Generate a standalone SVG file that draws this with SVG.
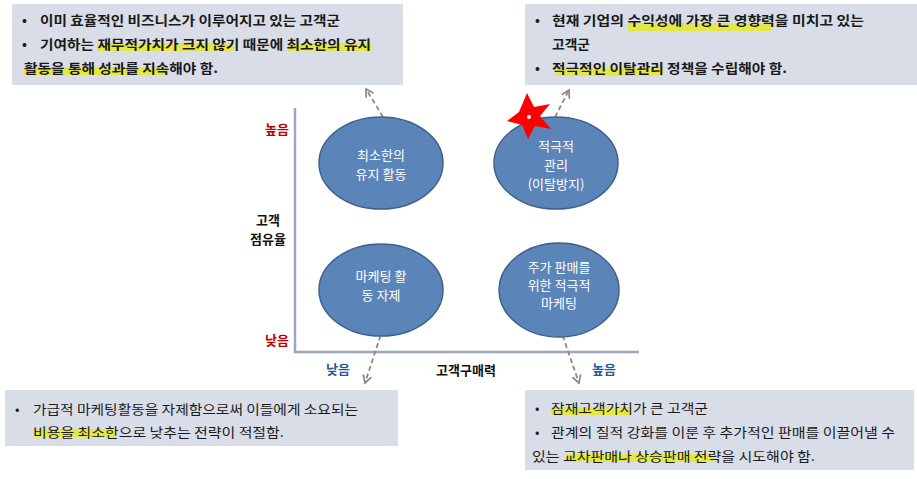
<svg xmlns="http://www.w3.org/2000/svg" width="917" height="479" viewBox="0 0 917 479">
<defs>
<style>
.box{fill:#d8dde8}
.t{font-family:"Noto Sans CJK KR","Noto Sans",sans-serif;font-size:13px;font-weight:bold;fill:#1a1a1a}
.n{font-weight:normal}
.hl{fill:#e6ea2a;opacity:0.85}
.el{fill:#5b84b8;stroke:#3d628f;stroke-width:1.5}
.et{font-family:"Noto Sans CJK KR","Noto Sans",sans-serif;font-size:13px;fill:#fff;text-anchor:middle}
.ax{stroke:#9aa7bd;stroke-width:2.5}
.lbl{font-family:"Noto Sans CJK KR","Noto Sans",sans-serif;font-size:13px;font-weight:bold}
.dash{stroke:#8a8a8a;stroke-width:1.8;stroke-dasharray:5,3;fill:none;marker-end:url(#ah)}
</style>
<marker id="ah" viewBox="0 0 10 10" refX="8" refY="5" markerWidth="6" markerHeight="6" orient="auto"><path d="M1,1 L8,5 L1,9" fill="none" stroke="#8a8a8a" stroke-width="1.6"/></marker>
</defs>
<rect width="917" height="479" fill="#fff"/>
<g id="box-tl">
<rect class="box" x="12" y="4" width="391" height="81"/>
<rect class="hl" x="97" y="43" width="137" height="8"/>
<rect class="hl" x="288" y="43" width="83" height="8"/>
<rect class="hl" x="24" y="67" width="142" height="8"/>
<text class="t" x="22" y="25">•</text>
<text class="t" x="40" y="25" textLength="300" lengthAdjust="spacingAndGlyphs">이미 효율적인 비즈니스가 이루어지고 있는 고객군</text>
<text class="t" x="22" y="49">•</text>
<text class="t" x="40" y="49" textLength="331" lengthAdjust="spacingAndGlyphs">기여하는 재무적가치가 크지 않기 때문에 최소한의 유지</text>
<text class="t" x="24" y="73" textLength="194" lengthAdjust="spacingAndGlyphs">활동을 통해 성과를 지속해야 함.</text>
</g>
<g id="box-tr">
<rect class="box" x="525" y="4" width="392" height="81"/>
<rect class="hl" x="628" y="23" width="143" height="8"/>
<rect class="hl" x="555" y="68" width="108" height="8"/>
<text class="t" x="535" y="25">•</text>
<text class="t" x="552" y="25" textLength="312" lengthAdjust="spacingAndGlyphs">현재 기업의 수익성에 가장 큰 영향력을 미치고 있는</text>
<text class="t" x="552" y="49" textLength="38" lengthAdjust="spacingAndGlyphs">고객군</text>
<text class="t" x="535" y="73">•</text>
<text class="t" x="552" y="73" textLength="235" lengthAdjust="spacingAndGlyphs">적극적인 이탈관리 정책을 수립해야 함.</text>
</g>
<g id="box-bl">
<rect class="box" x="5" y="390" width="393" height="56"/>
<rect class="hl" x="34" y="429" width="82" height="8"/>
<text class="t n" x="15" y="414">•</text>
<text class="t n" x="33" y="414" textLength="325" lengthAdjust="spacingAndGlyphs">가급적 마케팅활동을 자제함으로써 이들에게 소요되는</text>
<text class="t n" x="33" y="437" textLength="251" lengthAdjust="spacingAndGlyphs">비용을 최소한으로 낮추는 전략이 적절함.</text>
</g>
<g id="box-br">
<rect class="box" x="525" y="390" width="389" height="80"/>
<rect class="hl" x="551" y="407" width="81" height="8"/>
<rect class="hl" x="566" y="454" width="150" height="8"/>
<text class="t n" x="535" y="413">•</text>
<text class="t n" x="551" y="413" textLength="157" lengthAdjust="spacingAndGlyphs">잠재고객가치가 큰 고객군</text>
<text class="t n" x="535" y="437">•</text>
<text class="t n" x="551" y="437" textLength="344" lengthAdjust="spacingAndGlyphs">관계의 질적 강화를 이룬 후 추가적인 판매를 이끌어낼 수</text>
<text class="t n" x="532" y="461" textLength="283" lengthAdjust="spacingAndGlyphs">있는 교차판매나 상승판매 전략을 시도해야 함.</text>
</g>
<g id="axes">
<line class="ax" x1="295" y1="108" x2="295" y2="353"/>
<line class="ax" x1="294" y1="352" x2="639" y2="352"/>
<text class="lbl" x="277" y="134" fill="#c00000" text-anchor="middle">높음</text>
<text class="lbl" x="277" y="345" fill="#c00000" text-anchor="middle">낮음</text>
<text class="lbl" x="268" y="225" fill="#111" text-anchor="middle">고객</text>
<text class="lbl" x="268" y="244" fill="#111" text-anchor="middle">점유율</text>
<text class="lbl" x="338" y="374" fill="#1f5d99" text-anchor="middle">낮음</text>
<text class="lbl" x="466" y="375" fill="#111" text-anchor="middle">고객구매력</text>
<text class="lbl" x="604" y="374" fill="#1f5d99" text-anchor="middle">높음</text>
</g>
<g id="connectors">
<path class="dash" d="M383,117 L366,89"/>
<path class="dash" d="M555,117 L569,90"/>
<path class="dash" d="M383,328 L365,383"/>
<path class="dash" d="M560,328 L579,383"/>
</g>
<g id="n-tl"><ellipse class="el" cx="381" cy="163" rx="62" ry="46"/><text class="et" x="381" y="160">최소한의</text><text class="et" x="381" y="179">유지 활동</text></g>
<g id="n-tr"><ellipse class="el" cx="556" cy="163" rx="62" ry="46"/><text class="et" x="556" y="151">적극적</text><text class="et" x="556" y="170">관리</text><text class="et" x="556" y="189">(이탈방지)</text></g>
<g id="n-bl"><ellipse class="el" cx="381" cy="290" rx="62" ry="46"/><text class="et" x="381" y="281">마케팅 활</text><text class="et" x="381" y="300">동 자제</text></g>
<g id="n-br"><ellipse class="el" cx="559" cy="290" rx="60" ry="47"/><text class="et" x="559" y="272" font-size="11">주가 판매를</text><text class="et" x="559" y="290" font-size="11">위한 적극적</text><text class="et" x="559" y="308" font-size="11">마케팅</text></g>
<g id="star"><path d="M527,93 L534,107 L550,104 L540,116 L551,129 L535,126 L528,139 L522,125 L507,121 L519,112 Z" fill="#ff0000"/><circle cx="529" cy="117" r="2" fill="#fff"/></g>
</svg>
